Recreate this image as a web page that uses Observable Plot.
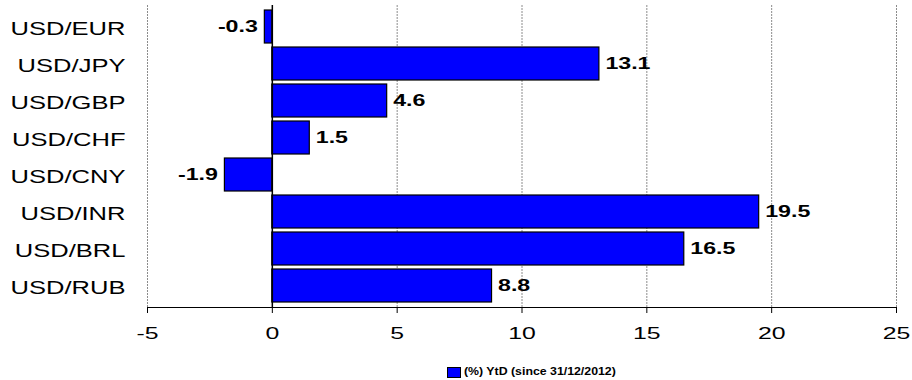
<!DOCTYPE html>
<html>
<head>
<meta charset="utf-8">
<script src="https://cdn.jsdelivr.net/npm/d3@7"></script>
<script src="https://cdn.jsdelivr.net/npm/@observablehq/plot@0.6"></script>
<style>
  html, body { margin: 0; padding: 0; background: #fff; }
  body { width: 912px; height: 380px; overflow: hidden; font-family: Arial, "Liberation Sans", sans-serif; }
  #chart svg { display: block; }
  #legend { position: relative; height: 22px; }
  #legend .swatch {
    position: absolute; left: 447px; top: 9px; width: 12px; height: 9px;
    background: #0000ff; border: 1px solid #000;
  }
  #legend .label {
    position: absolute; left: 464px; top: 6px; font-size: 11px; font-weight: bold;
    line-height: 14px; white-space: nowrap; transform: scaleX(1.12); transform-origin: left center;
  }
</style>
</head>
<body>
<div id="chart"></div>
<div id="legend"><span class="swatch"></span><span class="label"></span></div>
<script>
// Year-to-date change of the US dollar against other currencies (%)
const pairs = ["USD/EUR", "USD/JPY", "USD/GBP", "USD/CHF", "USD/CNY", "USD/INR", "USD/BRL", "USD/RUB"];
const ytdChange = [-0.3, 13.1, 4.6, 1.5, -1.9, 19.5, 16.5, 8.8];
const xTicks = [-5, 0, 5, 10, 15, 20, 25];
const seriesName = "(%) YtD (since 31/12/2012)";

const rows = pairs.map((pair, i) => ({pair, value: ytdChange[i]}));
const fontFamily = 'Arial, "Liberation Sans", sans-serif';

const chart = Plot.plot({
  width: 912,
  height: 358,
  marginLeft: 147,
  marginRight: 16,
  marginTop: 5,
  marginBottom: 51,
  style: {fontFamily, color: "#000", background: "#fff", overflow: "visible"},
  x: {domain: [-5, 25], axis: null},
  y: {domain: pairs, paddingInner: 0.12, paddingOuter: 0.07, axis: null},
  marks: [
    // vertical gridlines
    Plot.ruleX(xTicks.filter((d) => d !== 0), {stroke: "#8c8c8c", strokeWidth: 1, strokeDasharray: "2,1"}),
    // bars
    Plot.barX(rows, {x: "value", y: "pair", fill: "#0000ff", stroke: "#000", strokeWidth: 1.2}),
    // zero baseline
    Plot.ruleX([0], {stroke: "#000", strokeWidth: 1.5}),
    // bottom axis line
    Plot.frame({anchor: "bottom", stroke: "#000", strokeWidth: 1}),
    Plot.axisX({ticks: xTicks, tickSize: 6, tickPadding: 14, fontSize: 16, tickFormat: (d) => String(d), label: null}),
    Plot.axisY({tickSize: 0, tickPadding: 22, fontSize: 18, dy: 2, label: null}),
    // value labels
    Plot.text(rows.filter((d) => d.value >= 0), {
      x: "value", y: "pair", text: (d) => d.value.toFixed(1),
      textAnchor: "start", dx: 6, fontSize: 16, fontWeight: "bold", fill: "#000"
    }),
    Plot.text(rows.filter((d) => d.value < 0), {
      x: "value", y: "pair", text: (d) => d.value.toFixed(1),
      textAnchor: "end", dx: -7, fontSize: 16, fontWeight: "bold", fill: "#000"
    })
  ]
});

// widen the lettering horizontally around each label's anchor point
const stretch = {"x-axis tick label": 1.55, "y-axis tick label": 1.42, "text": 1.45};
d3.select(chart).selectAll("g[aria-label]").each(function () {
  const s = stretch[this.getAttribute("aria-label")];
  if (!s) return;
  d3.select(this).selectAll("text").attr("transform", function () {
    const t = this.getAttribute("transform") || "";
    return `${t} scale(${s},1)`;
  });
});

document.getElementById("chart").append(chart);
document.querySelector("#legend .label").textContent = seriesName;
</script>
</body>
</html>
